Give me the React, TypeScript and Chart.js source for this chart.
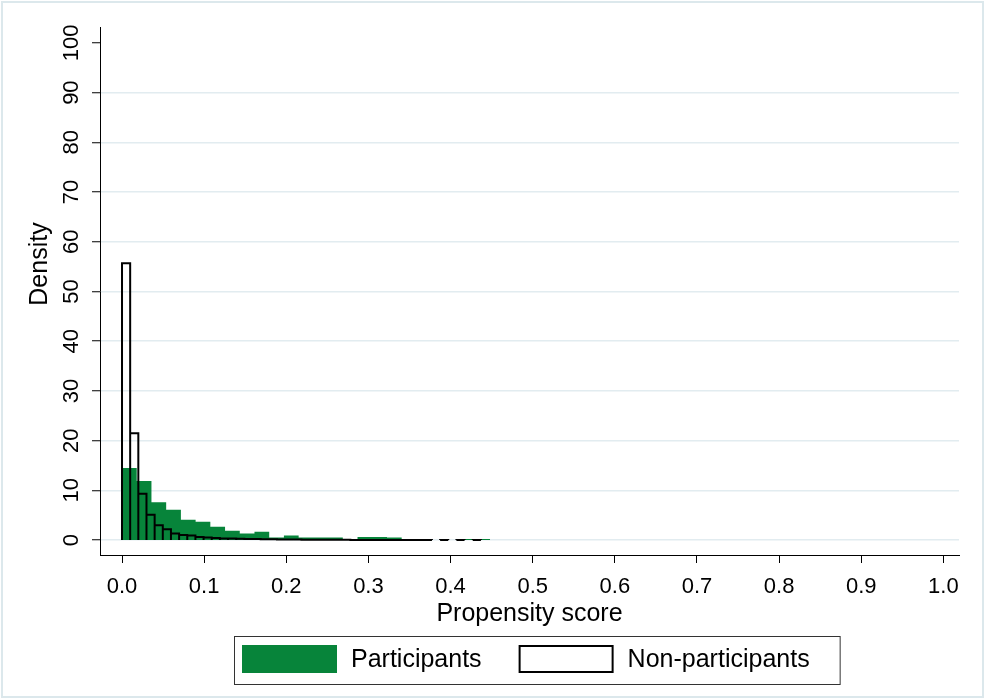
import { useEffect, useRef } from 'react';
import { Chart, registerables } from 'chart.js';

Chart.register(...registerables);

const X_TICKS = [0, 0.1, 0.2, 0.3, 0.4, 0.5, 0.6, 0.7, 0.8, 0.9, 1.0];
const Y_TICKS = [0, 10, 20, 30, 40, 50, 60, 70, 80, 90, 100];
const SERIES_LABELS = ['Participants', 'Non-participants'];
const X_TITLE = 'Propensity score';
const Y_TITLE = 'Density';

const PARTICIPANT_BIN_WIDTH = 0.01792;
const PARTICIPANT_DENSITY = [
  14.5, 11.9, 7.6, 6.1, 4.1, 3.7, 2.7, 1.9, 1.3, 1.7,
  0.5, 0.9, 0.5, 0.5, 0.5, 0.1, 0.6, 0.6, 0.5, 0.2,
  0.2, 0, 0, 0.2, 0.2,
];

const NONPARTICIPANT_BIN_WIDTH = 0.00993;
const NONPARTICIPANT_DENSITY = [
  55.7, 21.5, 9.3, 5.1, 3.0, 2.2, 1.3, 1.0, 0.9, 0.6,
  0.5, 0.4, 0.3, 0.3, 0.25, 0.2, 0.2, 0.15, 0.15, 0.12,
  0.1, 0.1, 0.08, 0.08, 0.06, 0.06, 0.05, 0.05, 0.04, 0.04,
  0.03, 0.03, 0.03, 0.02, 0.02, 0.02, 0.02, 0.02, 0, 0.02,
  0, 0.02, 0, 0.02,
];

const GREEN = '#07843a';
const GRID = '#e2ecf0';
const FONT = '"Liberation Sans", Arial, Helvetica, sans-serif';

function binOutline(values: number[], width: number) {
  const pts: { x: number; y: number | null }[] = [];
  values.forEach((v, i) => {
    const x0 = i * width;
    const x1 = (i + 1) * width;
    if (v > 0) {
      pts.push({ x: x0, y: 0 }, { x: x0, y: v }, { x: x1, y: v }, { x: x1, y: 0 });
    } else {
      pts.push({ x: (x0 + x1) / 2, y: null });
    }
  });
  return pts;
}

const framePlugin = {
  id: 'frame',
  beforeDraw(chart: any) {
    const { ctx, width, height } = chart;
    ctx.save();
    ctx.fillStyle = '#ffffff';
    ctx.fillRect(0, 0, width, height);
    ctx.strokeStyle = '#dce8ec';
    ctx.lineWidth = 2;
    ctx.strokeRect(2, 2, width - 4, height - 4);
    ctx.restore();
  },
};

const yTitlePlugin = {
  id: 'yTitle',
  afterDraw(chart: any) {
    const { ctx } = chart;
    ctx.save();
    ctx.translate(40, 264);
    ctx.rotate(-Math.PI / 2);
    ctx.font = `25px ${FONT}`;
    ctx.fillStyle = '#000';
    ctx.textAlign = 'center';
    ctx.textBaseline = 'middle';
    ctx.fillText(Y_TITLE, 0, 0);
    ctx.restore();
  },
};

const legendPlugin = {
  id: 'stataLegend',
  afterDraw(chart: any) {
    const { ctx } = chart;
    const ds = chart.data.datasets;
    ctx.save();
    ctx.font = `25px ${FONT}`;
    ctx.textBaseline = 'middle';
    ctx.textAlign = 'left';
    const boxLeft = 234;
    const boxTop = 636;
    const boxH = 48;
    const swW = 95;
    const swH = 28;
    const swTop = boxTop + 9;
    let x = boxLeft + 8;
    [0, 1].forEach((i, k) => {
      const d = ds[i];
      if (k === 0) {
        ctx.fillStyle = d.backgroundColor;
        ctx.fillRect(x, swTop, swW, swH);
      } else {
        ctx.strokeStyle = '#000';
        ctx.lineWidth = 2;
        ctx.strokeRect(x + 1, swTop + 1, swW - 2, swH - 2);
      }
      x += swW + 14;
      ctx.fillStyle = '#000';
      ctx.fillText(d.label, x, swTop + swH / 2 + 1);
      x += ctx.measureText(d.label).width;
      if (k === 0) x += 37;
    });
    const boxRight = x + 30;
    ctx.strokeStyle = '#333';
    ctx.lineWidth = 1;
    ctx.strokeRect(boxLeft + 0.5, boxTop + 0.5, boxRight - boxLeft, boxH);
    ctx.restore();
  },
};

export default function App() {
  const ref = useRef<HTMLCanvasElement | null>(null);

  useEffect(() => {
    if (!ref.current) return;
    const chart = new Chart(ref.current, {
      type: 'line',
      data: {
        datasets: [
          {
            label: SERIES_LABELS[0],
            data: binOutline(PARTICIPANT_DENSITY, PARTICIPANT_BIN_WIDTH) as any,
            backgroundColor: GREEN,
            borderColor: 'rgba(0,0,0,0)',
            borderWidth: 0,
            fill: 'origin',
            pointRadius: 0,
            spanGaps: false,
            order: 2,
          },
          {
            label: SERIES_LABELS[1],
            data: binOutline(NONPARTICIPANT_DENSITY, NONPARTICIPANT_BIN_WIDTH) as any,
            backgroundColor: 'rgba(255,255,255,0)',
            borderColor: '#000000',
            borderWidth: 2,
            borderJoinStyle: 'miter',
            borderCapStyle: 'butt',
            fill: false,
            pointRadius: 0,
            spanGaps: false,
            order: 1,
          },
        ],
      },
      options: {
        animation: false,
        responsive: true,
        maintainAspectRatio: false,
        layout: { padding: { left: 8, top: 27, right: 26, bottom: 64 } },
        plugins: {
          legend: { display: false },
          tooltip: { enabled: false },
        },
        scales: {
          x: {
            type: 'linear',
            min: -0.0268,
            max: 1.019,
            afterFit: (s: any) => { s.height = 80; },
            afterBuildTicks: (s: any) => { s.ticks = X_TICKS.map((v) => ({ value: v })); },
            border: { display: true, color: '#000', width: 1 },
            grid: { drawOnChartArea: false, tickColor: '#000', tickLength: 8, tickWidth: 1 },
            ticks: {
              padding: 11,
              color: '#000',
              font: { family: FONT, size: 22 },
              maxRotation: 0,
              minRotation: 0,
              callback: (v: any) => Number(v).toFixed(1),
            },
            title: {
              display: true,
              text: X_TITLE,
              color: '#000',
              font: { family: FONT, size: 25 },
              padding: { top: 0, bottom: 6 },
            },
          },
          y: {
            type: 'linear',
            min: -3.0,
            max: 103.2,
            afterFit: (s: any) => { s.width = 92; },
            afterBuildTicks: (s: any) => { s.ticks = Y_TICKS.map((v) => ({ value: v })); },
            border: { display: true, color: '#000', width: 1 },
            grid: {
              color: (c: any) => (c.tick && c.tick.value === 100 ? 'rgba(0,0,0,0)' : GRID),
              lineWidth: 1.5,
              tickColor: '#000',
              tickLength: 8,
              tickWidth: 1,
            },
            ticks: {
              padding: 2,
              color: '#000',
              font: { family: FONT, size: 22 },
              minRotation: 90,
              maxRotation: 90,
              crossAlign: 'center',
              callback: (v: any) => String(v),
            },
            title: { display: false, text: Y_TITLE },
          },
        },
      },
      plugins: [framePlugin, yTitlePlugin, legendPlugin],
    } as any);
    return () => chart.destroy();
  }, []);

  return (
    <div style={{ position: 'absolute', left: 0, top: 0, width: 985, height: 699 }}>
      <canvas ref={ref} />
    </div>
  );
}
